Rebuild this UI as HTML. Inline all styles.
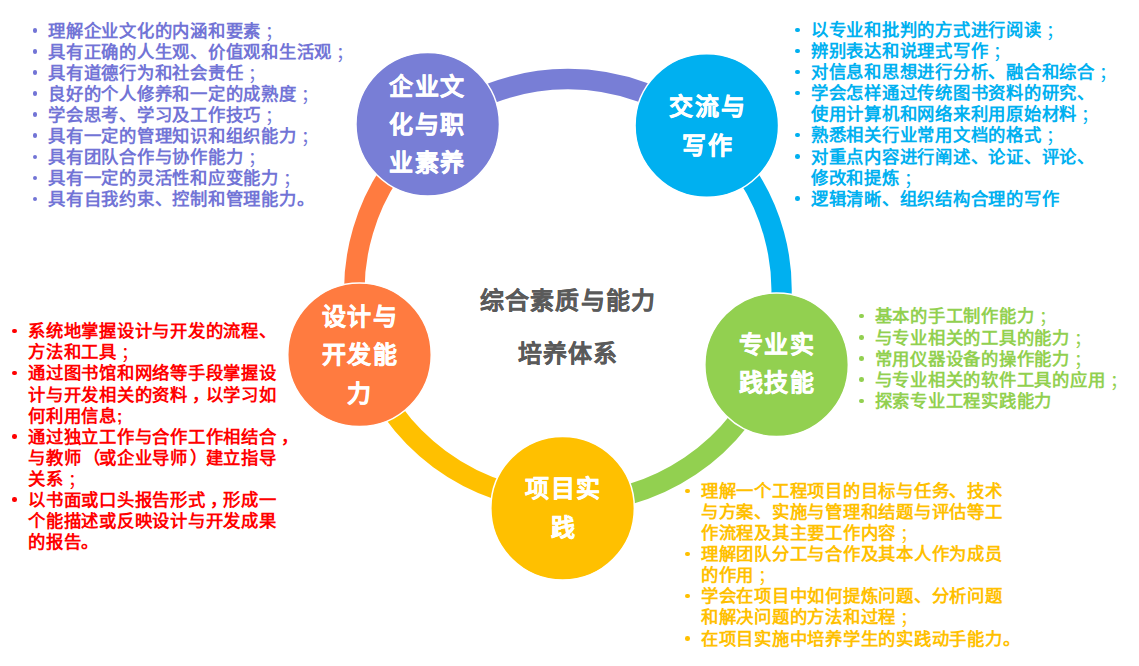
<!DOCTYPE html>
<html lang="zh-CN"><head><meta charset="utf-8"><style>
html,body{margin:0;padding:0;background:#fff;width:1139px;height:666px;overflow:hidden;position:relative}
body{font-family:"Liberation Sans",sans-serif}
svg{position:absolute;left:0;top:0}
.t{position:absolute;white-space:nowrap;font-size:17.33px;line-height:20.8px;font-weight:bold;letter-spacing:0.75px}
.t b{margin-left:4.3px;font-weight:normal;position:relative;top:1px}
.t u{text-decoration:none;position:relative;left:4px}
.t em{font-style:normal;position:relative;left:2.5px}
.t q{position:relative;left:1.5px}
.t q::before,.t q::after{content:none}
i{position:absolute;width:4.6px;height:4.6px;border-radius:50%}
.c{position:absolute;width:200px;text-align:center;color:#fff;font-size:24px;line-height:30px;font-weight:bold;letter-spacing:1.6px;-webkit-text-stroke:0.4px #fff}
.m{position:absolute;width:400px;text-align:center;color:#5a5a5a;font-size:24px;line-height:30px;font-weight:bold;letter-spacing:1.2px;-webkit-text-stroke:0.2px #5a5a5a}
</style></head><body>
<svg width="1139" height="666" viewBox="0 0 1139 666"><g fill="none" stroke-width="20.5">
<path d="M431.0 128.2A213.5 210.5 0 0 1 704.7 127.9" stroke="#787ed6"/>
<path d="M704.7 127.9A213.5 210.5 0 0 1 768.5 361.9" stroke="#00b0f0"/>
<path d="M770.5 364.4A213.5 210.5 0 0 1 564.8 502.5" stroke="#92d050"/>
<path d="M562.3 501.0A213.5 210.5 0 0 1 364.0 354.2" stroke="#ffc000"/>
<path d="M364.5 353.2A213.5 210.5 0 0 1 431.0 128.2" stroke="#ff7b40"/>
<g stroke="#fff" stroke-width="1.5"><circle cx="427.7" cy="124.3" r="71.75" fill="#787ed6"/>
<circle cx="706.8" cy="125.5" r="71.75" fill="#00b0f0"/>
<circle cx="776.6" cy="364.8" r="71.75" fill="#92d050"/>
<circle cx="562.6" cy="508.2" r="71.75" fill="#ffc000"/>
<circle cx="359.5" cy="354.8" r="71.75" fill="#ff7b40"/></g>
</g></svg>
<i style="left:32.6px;top:28.1px;background:#7274d6"></i>
<div class="t" style="left:48.0px;top:20.6px;color:#7274d6">理解企业文化的内涵和要素<b>；</b></div>
<i style="left:32.6px;top:49.2px;background:#7274d6"></i>
<div class="t" style="left:48.0px;top:41.7px;color:#7274d6">具有正确的人生观、价值观和生活观<b>；</b></div>
<i style="left:32.6px;top:70.2px;background:#7274d6"></i>
<div class="t" style="left:48.0px;top:62.7px;color:#7274d6">具有道德行为和社会责任<b>；</b></div>
<i style="left:32.6px;top:91.3px;background:#7274d6"></i>
<div class="t" style="left:48.0px;top:83.8px;color:#7274d6">良好的个人修养和一定的成熟度<b>；</b></div>
<i style="left:32.6px;top:112.4px;background:#7274d6"></i>
<div class="t" style="left:48.0px;top:104.9px;color:#7274d6">学会思考、学习及工作技巧<b>；</b></div>
<i style="left:32.6px;top:133.4px;background:#7274d6"></i>
<div class="t" style="left:48.0px;top:125.9px;color:#7274d6">具有一定的管理知识和组织能力<b>；</b></div>
<i style="left:32.6px;top:154.5px;background:#7274d6"></i>
<div class="t" style="left:48.0px;top:147.0px;color:#7274d6">具有团队合作与协作能力<b>；</b></div>
<i style="left:32.6px;top:175.6px;background:#7274d6"></i>
<div class="t" style="left:48.0px;top:168.1px;color:#7274d6">具有一定的灵活性和应变能力<b>；</b></div>
<i style="left:32.6px;top:196.6px;background:#7274d6"></i>
<div class="t" style="left:48.0px;top:189.1px;color:#7274d6">具有自我约束、控制和管理能力。</div>
<i style="left:795.0px;top:27.8px;background:#00b0f0"></i>
<div class="t" style="left:810.8px;top:20.2px;color:#00b0f0">以专业和批判的方式进行阅读<b>；</b></div>
<i style="left:795.0px;top:48.8px;background:#00b0f0"></i>
<div class="t" style="left:810.8px;top:41.3px;color:#00b0f0">辨别表达和说理式写作<b>；</b></div>
<i style="left:795.0px;top:69.8px;background:#00b0f0"></i>
<div class="t" style="left:810.8px;top:62.3px;color:#00b0f0">对信息和思想进行分析、融合和综合<b>；</b></div>
<i style="left:795.0px;top:90.9px;background:#00b0f0"></i>
<div class="t" style="left:810.8px;top:83.4px;color:#00b0f0">学会怎样通过传统图书资料的研究、</div>
<div class="t" style="left:810.8px;top:104.4px;color:#00b0f0">使用计算机和网络来利用原始材料<b>；</b></div>
<i style="left:795.0px;top:132.9px;background:#00b0f0"></i>
<div class="t" style="left:810.8px;top:125.4px;color:#00b0f0">熟悉相关行业常用文档的格式<b>；</b></div>
<i style="left:795.0px;top:154.0px;background:#00b0f0"></i>
<div class="t" style="left:810.8px;top:146.5px;color:#00b0f0">对重点内容进行阐述、论证、评论、</div>
<div class="t" style="left:810.8px;top:167.5px;color:#00b0f0">修改和提炼<b>；</b></div>
<i style="left:795.0px;top:196.1px;background:#00b0f0"></i>
<div class="t" style="left:810.8px;top:188.6px;color:#00b0f0">逻辑清晰、组织结构合理的写作</div>
<i style="left:12.2px;top:328.9px;background:#ff0000"></i>
<div class="t" style="left:28.0px;top:321.4px;color:#ff0000">系统地掌握设计与开发的流程、</div>
<div class="t" style="left:28.0px;top:342.4px;color:#ff0000">方法和工具<b>；</b></div>
<i style="left:12.2px;top:370.9px;background:#ff0000"></i>
<div class="t" style="left:28.0px;top:363.4px;color:#ff0000">通过图书馆和网络等手段掌握设</div>
<div class="t" style="left:28.0px;top:384.5px;color:#ff0000">计与开发相关的资料<u>，</u>以学习如</div>
<div class="t" style="left:28.0px;top:405.5px;color:#ff0000">何利用信息;</div>
<i style="left:12.2px;top:434.0px;background:#ff0000"></i>
<div class="t" style="left:28.0px;top:426.5px;color:#ff0000">通过独立工作与合作工作相结合<u>，</u></div>
<div class="t" style="left:28.0px;top:447.5px;color:#ff0000">与教师<q>（</q>或企业导师<em>）</em>建立指导</div>
<div class="t" style="left:28.0px;top:468.5px;color:#ff0000">关系<b>；</b></div>
<i style="left:12.2px;top:497.1px;background:#ff0000"></i>
<div class="t" style="left:28.0px;top:489.6px;color:#ff0000">以书面或口头报告形式<u>，</u>形成一</div>
<div class="t" style="left:28.0px;top:510.6px;color:#ff0000">个能描述或反映设计与开发成果</div>
<div class="t" style="left:28.0px;top:531.6px;color:#ff0000">的报告。</div>
<i style="left:859.1px;top:313.8px;background:#92d050"></i>
<div class="t" style="left:874.7px;top:306.3px;color:#92d050">基本的手工制作能力<b>；</b></div>
<i style="left:859.1px;top:335.0px;background:#92d050"></i>
<div class="t" style="left:874.7px;top:327.5px;color:#92d050">与专业相关的工具的能力<b>；</b></div>
<i style="left:859.1px;top:356.2px;background:#92d050"></i>
<div class="t" style="left:874.7px;top:348.7px;color:#92d050">常用仪器设备的操作能力<b>；</b></div>
<i style="left:859.1px;top:377.4px;background:#92d050"></i>
<div class="t" style="left:874.7px;top:369.9px;color:#92d050">与专业相关的软件工具的应用<b>；</b></div>
<i style="left:859.1px;top:398.6px;background:#92d050"></i>
<div class="t" style="left:874.7px;top:391.1px;color:#92d050">探索专业工程实践能力</div>
<i style="left:685.3px;top:488.7px;background:#ffc000"></i>
<div class="t" style="left:700.9px;top:481.2px;color:#ffc000">理解一个工程项目的目标与任务、技术</div>
<div class="t" style="left:700.9px;top:502.2px;color:#ffc000">与方案、实施与管理和结题与评估等工</div>
<div class="t" style="left:700.9px;top:523.3px;color:#ffc000">作流程及其主要工作内容<b>；</b></div>
<i style="left:685.3px;top:551.8px;background:#ffc000"></i>
<div class="t" style="left:700.9px;top:544.3px;color:#ffc000">理解团队分工与合作及其本人作为成员</div>
<div class="t" style="left:700.9px;top:565.4px;color:#ffc000">的作用<b>；</b></div>
<i style="left:685.3px;top:593.9px;background:#ffc000"></i>
<div class="t" style="left:700.9px;top:586.4px;color:#ffc000">学会在项目中如何提炼问题、分析问题</div>
<div class="t" style="left:700.9px;top:607.4px;color:#ffc000">和解决问题的方法和过程<b>；</b></div>
<i style="left:685.3px;top:636.0px;background:#ffc000"></i>
<div class="t" style="left:700.9px;top:628.5px;color:#ffc000">在项目实施中培养学生的实践动手能力。</div>
<div class="c" style="left:327.5px;top:71.5px">企业文</div>
<div class="c" style="left:327.5px;top:109.8px">化与职</div>
<div class="c" style="left:327.5px;top:148.1px">业素养</div>
<div class="c" style="left:607.8px;top:92.3px">交流与</div>
<div class="c" style="left:607.8px;top:130.7px">写作</div>
<div class="c" style="left:677.0px;top:329.9px">专业实</div>
<div class="c" style="left:677.0px;top:368.1px">践技能</div>
<div class="c" style="left:463.7px;top:474.4px">项目实</div>
<div class="c" style="left:463.7px;top:512.6px">践</div>
<div class="c" style="left:260.1px;top:302.0px">设计与</div>
<div class="c" style="left:260.1px;top:340.3px">开发能</div>
<div class="c" style="left:260.1px;top:378.6px">力</div>
<div class="m" style="left:368px;top:286px">综合素质与能力</div>
<div class="m" style="left:368px;top:339px">培养体系</div>
</body></html>
